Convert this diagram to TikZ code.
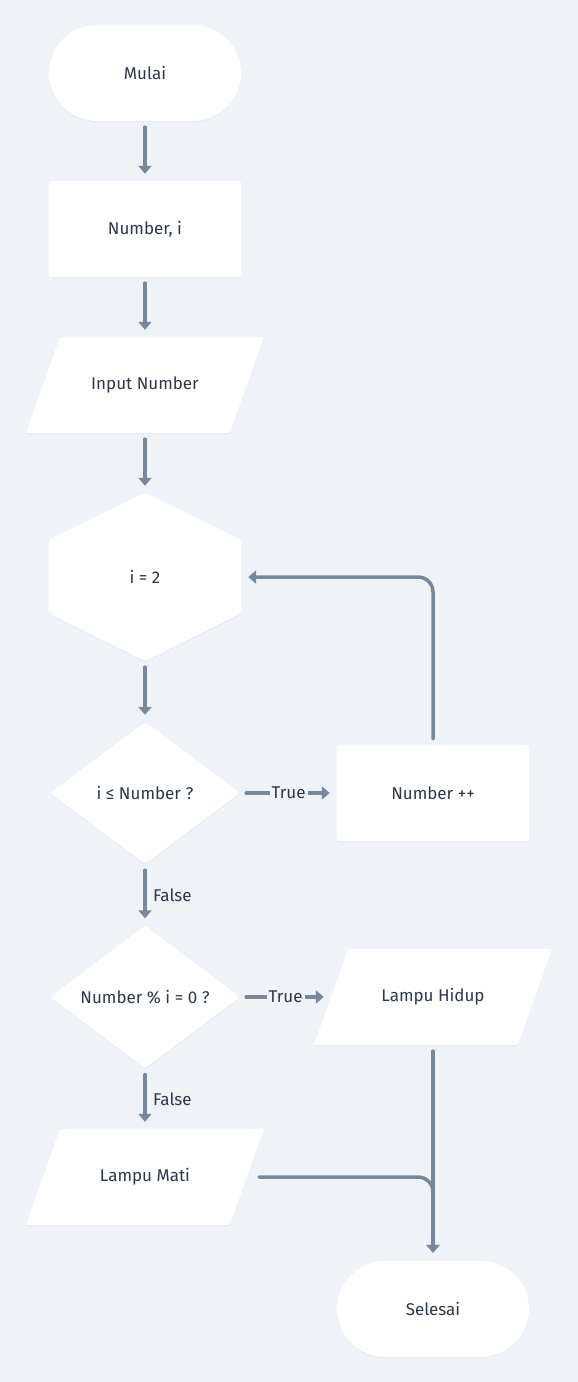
\documentclass[tikz,border=0pt]{standalone}
\usepackage{fontspec}
\setmainfont{Fira Sans}
\usetikzlibrary{shapes.geometric,arrows.meta,calc,shadows}
\definecolor{bgc}{RGB}{239,243,247}
\definecolor{ln}{RGB}{120,136,153}
\definecolor{tx}{RGB}{45,55,72}
\pgfdeclarelayer{back}
\pgfdeclarelayer{mid}
\pgfsetlayers{back,mid,main}
\newcommand\myparal[1]{%
  \fill[white,sh,rounded corners=2pt] ($(#1.center)+(-85,-48)$) -- ($(#1.center)+(119,-48)$) -- ($(#1.center)+(85,48)$) -- ($(#1.center)+(-119,48)$) -- cycle;}
\begin{document}
\begin{tikzpicture}[x=1pt,y=-1pt, font=\fontsize{17}{20}\selectfont, text=tx,
  sh/.style={drop shadow={shadow xshift=0pt,shadow yshift=-1pt,opacity=0.04,fill=black}},
  term/.style={fill=white, sh, rounded corners=48pt, minimum width=192pt, minimum height=96pt, inner sep=0pt},
  proc/.style={fill=white, sh, rounded corners=2pt, minimum width=192pt, minimum height=96pt, inner sep=0pt},
  ghost/.style={minimum width=204pt, minimum height=96pt, inner sep=0pt},
  dec/.style={diamond, fill=white, sh, minimum width=190pt, minimum height=142pt, inner sep=0pt, rounded corners=3pt},
  arr/.style={draw=ln, line width=3.5pt, line cap=round, -{Triangle[width=13pt,length=8pt]}, shorten <=6pt, shorten >=7pt},
  lbl/.style={fill=bgc, inner sep=2pt, text=tx},
  flbl/.style={right, xshift=3pt, text=tx}]
\begin{pgfonlayer}{back}
  \fill[bgc] (0,0) rectangle (578,1382);
\end{pgfonlayer}
\useasboundingbox (0,0) rectangle (578,1382);

\node[term] (start) at (145,73) {Mulai};
\node[proc] (num) at (145,229) {Number, i};
\node[ghost] (inp) at (145,385) {Input Number};
\node[ghost, minimum width=192pt, minimum height=168pt] (hex) at (145,577) {i = 2};
\node[dec] (d1) at (145,793) {i ≤ Number ?};
\node[proc] (inc) at (433,793) {Number ++};
\node[dec] (d2) at (145,997) {Number \% i = 0 ?};
\node[ghost] (hid) at (433,997) {Lampu Hidup};
\node[ghost] (mati) at (145,1177) {Lampu Mati};
\node[term] (sel) at (433,1309) {Selesai};

\begin{pgfonlayer}{mid}
  \myparal{inp}
  \myparal{hid}
  \myparal{mati}
  \fill[white,sh,rounded corners=3pt] (hex.north) -- ($(hex.north east)+(0,47)$) -- ($(hex.south east)+(0,-48)$) -- (hex.south) -- ($(hex.south west)+(0,-48)$) -- ($(hex.north west)+(0,47)$) -- cycle;
\end{pgfonlayer}

\draw[arr] (start) -- (num);
\draw[arr] (num) -- (inp);
\draw[arr] (inp) -- (hex);
\draw[arr] (hex) -- (d1);
\draw[arr] (d1) -- node[lbl]{True} (inc);
\draw[arr, rounded corners=15pt] (inc.north) |- (hex.east);
\draw[arr] (d1) -- node[flbl]{False} (d2);
\draw[arr] (d2) -- node[lbl]{True} (hid);
\draw[arr] (d2) -- node[flbl]{False} (mati);
\draw[arr, shorten >=8pt] (hid) -- (sel);
\draw[arr, rounded corners=15pt, shorten <=12pt, shorten >=8pt] (mati.east) -| (sel.north);
\end{tikzpicture}
\end{document}
